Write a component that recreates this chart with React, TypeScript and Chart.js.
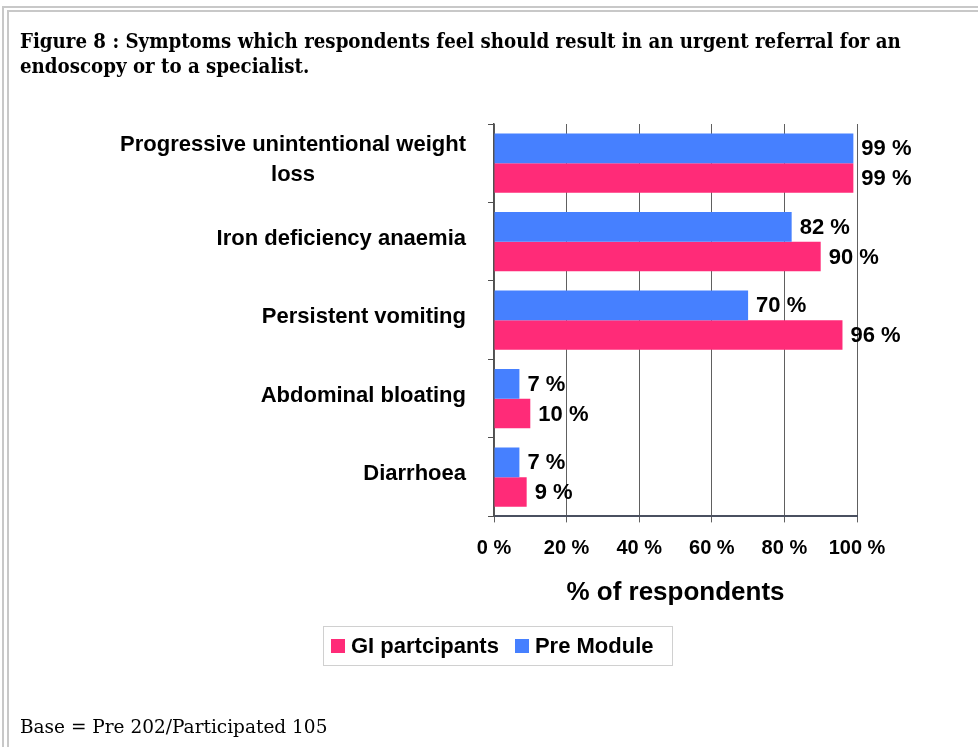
import React, { useEffect, useRef } from "react";
import { Chart, registerables } from "chart.js";

Chart.register(...registerables);

const categories: (string | string[])[] = [
  ["Progressive unintentional weight", "loss"],
  "Iron deficiency anaemia",
  "Persistent vomiting",
  "Abdominal bloating",
  "Diarrhoea",
];
const preModule = [99, 82, 70, 7, 7];
const giParticipants = [99, 90, 96, 10, 9];
const xTickValues = [0, 20, 40, 60, 80, 100];
const seriesNames = ["Pre Module", "GI partcipants"];
const seriesColors = ["#4680FF", "#FF2B78"];

const titleLines = [
  "Figure 8 : Symptoms which respondents feel should result in an urgent referral for an",
  "endoscopy or to a specialist.",
];
const footnote = "Base = Pre 202/Participated 105";
const axisTitle = "% of respondents";

const SANS = '"Liberation Sans", Arial, sans-serif';

const yLabelPlugin = {
  id: "yLabelPlugin",
  afterDraw(chart: any) {
    const ctx = chart.ctx;
    const y = chart.scales.y;
    const right = chart.chartArea.left - 28;
    ctx.save();
    ctx.font = `bold 22px ${SANS}`;
    ctx.fillStyle = "#000";
    ctx.textAlign = "center";
    ctx.textBaseline = "middle";
    categories.forEach((c, i) => {
      const lines = Array.isArray(c) ? c : [c];
      const w = Math.max(...lines.map((l) => ctx.measureText(l).width));
      const cx = right - w / 2;
      const cy = y.getPixelForValue(i) - 3;
      const lh = 30;
      lines.forEach((l, j) => {
        ctx.fillText(l, cx, cy + (j - (lines.length - 1) / 2) * lh);
      });
    });
    ctx.restore();
  },
};

const valueLabelPlugin = {
  id: "valueLabelPlugin",
  afterDatasetsDraw(chart: any) {
    const ctx = chart.ctx;
    ctx.save();
    ctx.font = `bold 22px ${SANS}`;
    ctx.fillStyle = "#000";
    ctx.textAlign = "left";
    ctx.textBaseline = "middle";
    chart.data.datasets.forEach((ds: any, di: number) => {
      const meta = chart.getDatasetMeta(di);
      meta.data.forEach((el: any, i: number) => {
        ctx.fillText(`${ds.data[i]} %`, el.x + 8, el.y + 1);
      });
    });
    ctx.restore();
  },
};

function ChartCanvas() {
  const ref = useRef<HTMLCanvasElement | null>(null);
  useEffect(() => {
    if (!ref.current) return;
    const chart = new Chart(ref.current, {
      type: "bar",
      data: {
        labels: categories.map((c) => (Array.isArray(c) ? c.join(" ") : c)),
        datasets: [
          {
            label: seriesNames[0],
            data: preModule,
            backgroundColor: seriesColors[0],
            borderWidth: 0,
            categoryPercentage: 0.755,
            barPercentage: 1,
          },
          {
            label: seriesNames[1],
            data: giParticipants,
            backgroundColor: seriesColors[1],
            borderWidth: 0,
            categoryPercentage: 0.755,
            barPercentage: 1,
          },
        ],
      },
      options: {
        indexAxis: "y",
        responsive: false,
        animation: false,
        layout: { padding: { top: 124, left: 488, right: 121, bottom: 139 } },
        plugins: { legend: { display: false }, tooltip: { enabled: false } },
        scales: {
          x: {
            min: 0,
            max: 100,
            afterBuildTicks: (s: any) => {
              s.ticks = xTickValues.map((v) => ({ value: v }));
            },
            ticks: {
              callback: (v: any) => `${v} %`,
              font: { size: 20, weight: "bold", family: SANS },
              color: "#000",
              padding: 14,
              maxRotation: 0,
            },
            grid: { color: "#606060", lineWidth: 1, tickLength: 6, drawTicks: true },
            border: { color: "#4a5060", width: 2 },
            title: {
              display: true,
              text: axisTitle,
              font: { size: 26, weight: "bold", family: SANS },
              color: "#000",
              padding: { top: 2.4, bottom: 0 },
            },
          },
          y: {
            ticks: { display: false },
            grid: { drawOnChartArea: false, drawTicks: true, tickLength: 6, color: "#505050" },
            border: { color: "#505050", width: 1.5 },
          },
        },
      },
      plugins: [yLabelPlugin, valueLabelPlugin],
    } as any);
    return () => chart.destroy();
  }, []);
  return <canvas ref={ref} width={978} height={747} style={{ position: "absolute", left: 0, top: 0 }} />;
}

export default function App() {
  const legendItems = [1, 0];
  return (
    <div style={{ position: "fixed", left: 0, top: 0, width: 978, height: 747, background: "#fff", overflow: "hidden" }}>
      <div style={{ position: "absolute", left: 2, top: 6, right: 0, bottom: 0, borderTop: "2px solid #c8c8c8", borderLeft: "2px solid #c8c8c8" }} />
      <div style={{ position: "absolute", left: 7, top: 10, right: 0, bottom: 0, borderTop: "2px solid #c8c8c8", borderLeft: "2px solid #c8c8c8" }} />
      <ChartCanvas />
      <div
        style={{
          position: "absolute",
          left: 20,
          top: 29,
          fontFamily: '"DejaVu Serif", serif',
          fontStretch: "condensed",
          fontWeight: "bold",
          fontSize: 20.25,
          lineHeight: "25px",
          whiteSpace: "nowrap",
          color: "#000",
        }}
      >
        {titleLines.map((l, i) => (
          <div key={i}>{l}</div>
        ))}
      </div>
      <div
        style={{
          position: "absolute",
          left: 323,
          top: 626,
          width: 350,
          height: 40,
          boxSizing: "border-box",
          border: "1.5px solid #d0d0d0",
          display: "flex",
          alignItems: "center",
          fontFamily: SANS,
          fontWeight: "bold",
          fontSize: 22,
          whiteSpace: "nowrap",
        }}
      >
        {legendItems.map((idx, k) => (
          <div key={idx} style={{ display: "flex", alignItems: "center", marginLeft: k === 0 ? 7 : 16 }}>
            <span style={{ display: "inline-block", width: 14, height: 14, background: seriesColors[idx], marginRight: 6 }} />
            <span>{seriesNames[idx]}</span>
          </div>
        ))}
      </div>
      <div
        style={{
          position: "absolute",
          left: 20,
          top: 716,
          fontFamily: '"DejaVu Serif", serif',
          fontSize: 18.5,
          whiteSpace: "nowrap",
          color: "#000",
        }}
      >
        {footnote}
      </div>
    </div>
  );
}
